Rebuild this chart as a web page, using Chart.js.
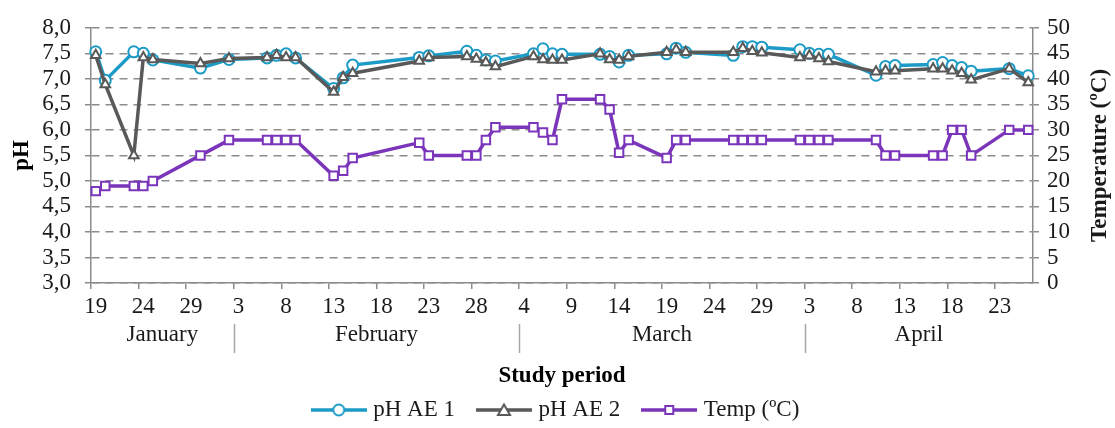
<!DOCTYPE html>
<html>
<head>
<meta charset="utf-8">
<title>pH and temperature</title>
<script src="https://cdn.jsdelivr.net/npm/chart.js@4.4.1/dist/chart.umd.min.js"></script>
<style>
    html, body { margin: 0; padding: 0; background: #fff; }
    #wrap { width: 1115px; height: 428px; }
</style>
</head>
<body>
<div id="wrap"><canvas id="chart" width="1115" height="428"></canvas></div>
<script>
// sampling dates (2012, month-day)
const sampleDates = [
    '01-19', '01-20', '01-23', '01-24', '01-25', '01-30', '02-02', '02-06', '02-07', '02-08',
    '02-09', '02-13', '02-14', '02-15', '02-22', '02-23', '02-27', '02-28', '02-29', '03-01',
    '03-05', '03-06', '03-07', '03-08', '03-12', '03-13', '03-14', '03-15', '03-19', '03-20',
    '03-21', '03-26', '03-27', '03-28', '03-29', '04-02', '04-03', '04-04', '04-05', '04-10',
    '04-11', '04-12', '04-16', '04-17', '04-18', '04-19', '04-20', '04-24', '04-26'
];
const phAe1 = [
    7.53, 6.97, 7.53, 7.50, 7.37, 7.21, 7.38, 7.41, 7.46, 7.49,
    7.41, 6.81, 7.02, 7.27, 7.42, 7.45, 7.54, 7.46, 7.37, 7.35,
    7.49, 7.59, 7.49, 7.48, 7.48, 7.44, 7.33, 7.46, 7.49, 7.60,
    7.52, 7.46, 7.63, 7.63, 7.62, 7.57, 7.50, 7.48, 7.48, 7.07,
    7.24, 7.26, 7.28, 7.32, 7.26, 7.22, 7.15, 7.20, 7.06
];
const phAe2 = [
    7.46, 6.89, 5.50, 7.42, 7.38, 7.30, 7.40, 7.42, 7.46, 7.42,
    7.42, 6.74, 7.03, 7.11, 7.35, 7.42, 7.44, 7.39, 7.32, 7.24,
    7.44, 7.38, 7.37, 7.37, 7.49, 7.38, 7.37, 7.44, 7.52, 7.57,
    7.52, 7.52, 7.60, 7.54, 7.51, 7.42, 7.45, 7.40, 7.34, 7.14,
    7.16, 7.16, 7.20, 7.20, 7.16, 7.11, 6.98, 7.20, 6.93
];
const tempC = [
    18, 19, 19, 19, 20, 25, 28, 28, 28, 28,
    28, 21, 22, 24.5, 27.5, 25, 25, 25, 28, 30.5,
    30.5, 29.5, 28, 36, 36, 34, 25.5, 28, 24.5, 28,
    28, 28, 28, 28, 28, 28, 28, 28, 28, 28,
    25, 25, 25, 25, 30, 30, 25, 30, 30
];
const seriesNames = ['pH AE 1', 'pH AE 2', 'Temp (ºC)'];
const monthNames = ['January', 'February', 'March', 'April'];
// axis start, first tick of each month, axis end
const monthBreaks = ['01-19', '02-03', '03-04', '04-03', '04-27'];
const axisStart = '01-19';
const axisEnd = '04-27';

const colors = ['#1C9BC6', '#595959', '#7B35BA'];
const serif = '"Liberation Serif", "Times New Roman", serif';

const dayIndex = (md) => {
    const [m, d] = md.split('-').map(Number);
    const [m0, d0] = axisStart.split('-').map(Number);
    return Math.round((Date.UTC(2012, m - 1, d) - Date.UTC(2012, m0 - 1, d0)) / 86400000);
};
const lastDay = dayIndex(axisEnd);
const toPoints = (vals) => vals.map((v, i) => ({ x: dayIndex(sampleDates[i]) + 0.5, y: v }));

const legendIcon = (color, style) => {
    const c = document.createElement('canvas');
    c.width = 56; c.height = 16;
    const ctx = c.getContext('2d');
    ctx.strokeStyle = color;
    ctx.lineWidth = 3.5;
    ctx.beginPath(); ctx.moveTo(0, 8); ctx.lineTo(56, 8); ctx.stroke();
    ctx.fillStyle = '#fff';
    ctx.lineWidth = 2;
    ctx.beginPath();
    if (style === 'circle') ctx.arc(28, 8, 5.5, 0, Math.PI * 2);
    else if (style === 'triangle') { ctx.moveTo(28, 2.5); ctx.lineTo(34, 13); ctx.lineTo(22, 13); ctx.closePath(); }
    else ctx.rect(24, 4, 8, 8);
    ctx.fill(); ctx.stroke();
    return c;
};
const styles = ['circle', 'triangle', 'rect'];
const icons = colors.map((c, i) => legendIcon(c, styles[i]));

const monthAxis = {
    id: 'monthAxis',
    afterDraw(chart) {
        const x = chart.scales.x;
        const area = chart.chartArea;
        const ctx = chart.ctx;
        ctx.save();
        ctx.font = '23px ' + serif;
        ctx.fillStyle = '#1a1a1a';
        ctx.textAlign = 'center';
        ctx.textBaseline = 'middle';
        ctx.strokeStyle = '#a6a6a6';
        ctx.lineWidth = 1.5;
        const px = monthBreaks.map(d => x.getPixelForValue(dayIndex(d)));
        monthNames.forEach((name, i) => {
            ctx.fillText(name, (px[i] + px[i + 1]) / 2, x.top + 52);
        });
        px.slice(1, -1).forEach(p => {
            ctx.beginPath();
            ctx.moveTo(Math.round(p) + 0.5, x.top + 41);
            ctx.lineTo(Math.round(p) + 0.5, x.top + 70);
            ctx.stroke();
        });
        // right axis title, reading bottom to top like the left one
        ctx.font = 'bold 23px ' + serif;
        ctx.translate(1100, (area.top + area.bottom) / 2);
        ctx.rotate(-Math.PI / 2);
        ctx.fillText('Temperature (ºC)', 0, 0);
        ctx.restore();
    }
};

Chart.defaults.font.family = serif;
Chart.defaults.font.size = 23;
Chart.defaults.color = '#1a1a1a';

const gridColor = '#8c8c8c';

new Chart(document.getElementById('chart'), {
    type: 'line',
    data: {
        datasets: [
            { label: seriesNames[0], data: toPoints(phAe1), yAxisID: 'y', order: 1 },
            { label: seriesNames[1], data: toPoints(phAe2), yAxisID: 'y', order: 0 },
            { label: seriesNames[2], data: toPoints(tempC), yAxisID: 'y2', order: 2 }
        ].map((ds, i) => ({
            ...ds,
            borderColor: colors[i],
            backgroundColor: '#fff',
            pointBackgroundColor: '#fff',
            pointBorderColor: colors[i],
            pointStyle: styles[i],
            pointRadius: i === 2 ? 6 : 5.5,
            pointBorderWidth: 2,
            borderWidth: 3.5,
            tension: 0,
            fill: false,
            clip: false
        }))
    },
    options: {
        responsive: false,
        devicePixelRatio: 1,
        animation: false,
        layout: { padding: { top: 20, right: 0, bottom: -3.5, left: 0 } },
        scales: {
            x: {
                type: 'linear',
                min: 0,
                max: lastDay,
                afterBuildTicks: (scale) => {
                    const ticks = [];
                    for (let v = 0; v < lastDay; v += 5) ticks.push({ value: v });
                    scale.ticks = ticks;
                },
                afterFit: (scale) => { scale.height = 89.5; },
                ticks: {
                    autoSkip: false,
                    maxRotation: 0,
                    padding: 4,
                    labelOffset: 4.76,
                    callback: (v) => new Date(2012, 0, 19 + v).getDate()
                },
                grid: { drawOnChartArea: false, color: gridColor, tickLength: 6, lineWidth: 1.5 },
                border: { color: gridColor, width: 1.5 },
                title: {
                    display: true,
                    text: 'Study period',
                    font: { weight: 'bold', size: 23 },
                    color: '#000',
                    padding: { top: 0, bottom: -17.3 }
                }
            },
            y: {
                position: 'left',
                min: 3,
                max: 8,
                afterFit: (scale) => { scale.width = 91; },
                ticks: {
                    stepSize: 0.5,
                    autoSkip: false,
                    padding: 14,
                    callback: (v) => v.toFixed(1).replace('.', ',')
                },
                grid: { color: gridColor, lineWidth: 1.5, tickLength: 6 },
                border: { color: gridColor, width: 1.5, dash: [8, 6] },
                title: {
                    display: true,
                    text: 'pH',
                    font: { weight: 'bold', size: 23 },
                    color: '#000',
                    padding: { top: 8, bottom: 0 }
                }
            },
            y2: {
                position: 'right',
                min: 0,
                max: 50,
                afterFit: (scale) => { scale.width = 82; },
                ticks: { stepSize: 5, autoSkip: false, padding: 8 },
                grid: { drawOnChartArea: false, color: gridColor, lineWidth: 1.5, tickLength: 6 },
                border: { color: gridColor, width: 1.5 }
            }
        },
        plugins: {
            tooltip: { enabled: false },
            legend: {
                position: 'bottom',
                labels: {
                    usePointStyle: true,
                    pointStyleWidth: 46,
                    padding: 26,
                    color: '#1a1a1a',
                    font: { size: 23 },
                    generateLabels: (chart) => {
                        const items = Chart.defaults.plugins.legend.labels.generateLabels(chart);
                        items.sort((a, b) => a.datasetIndex - b.datasetIndex);
                        items.forEach(it => { it.pointStyle = icons[it.datasetIndex]; });
                        return items;
                    }
                }
            }
        }
    },
    plugins: [monthAxis]
});
</script>
</body>
</html>
